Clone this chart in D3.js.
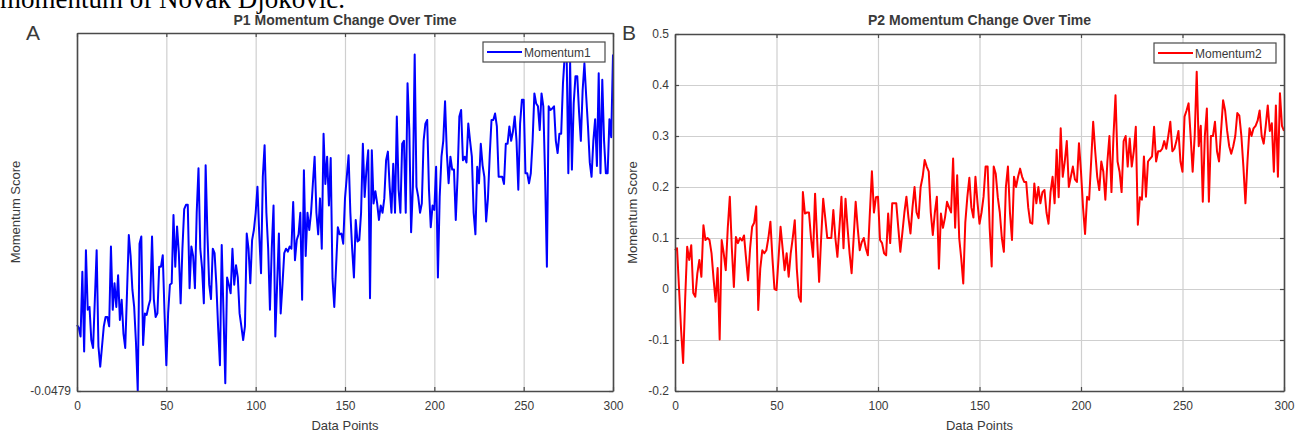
<!DOCTYPE html>
<html lang="en">
  <head>
    <meta charset="utf-8" />
    <title>Momentum change over time</title>
    <script type="text/javascript" src="https://cdn.jsdelivr.net/npm/d3@7"></script>
    <style type="text/css">
      body {
        margin: 0;
        background: white;
      }
      text {
        font-family: "Liberation Sans", Arial, sans-serif;
        fill: #3a3a3a;
      }
      .serif {
        font-family: "Liberation Serif", "Times New Roman", serif;
        fill: #000;
      }
    </style>
  </head>
  <body>
    <script type="text/javascript">
      var w = 1306;
      var h = 436;

      // x ticks shared by both panels
      var xTicks = [0, 50, 100, 150, 200, 250, 300];
      var yTicksP2 = [-0.2, -0.1, 0, 0.1, 0.2, 0.3, 0.4, 0.5];
      var yTicksP1 = [-0.0479];

      // momentum of player 1, one value per data point (0..300)
      var momentum1 = [
        0.044, 0.04, 0.028, 0.118, 0.007, 0.148, 0.065, 0.069, 0.023, 0.012,
        0.08, 0.148, 0.014, -0.014, 0.014, 0.042, 0.055, 0.055, 0.042, 0.153,
        0.065, 0.102, 0.069, 0.113, 0.051, 0.079, 0.032, 0.012, 0.09, 0.169,
        0.14, 0.093, 0.069, 0.02, -0.0479, 0.157, 0.167, 0.016, 0.06, 0.058,
        0.07, 0.079, 0.167, 0.08, 0.055, 0.06, 0.125, 0.125, 0.141, 0.06,
        -0.012, 0.06, 0.1, 0.102, 0.197, 0.125, 0.181, 0.144, 0.074, 0.15,
        0.205, 0.211, 0.211, 0.095, 0.153, 0.14, 0.095, 0.2, 0.262, 0.15,
        0.123, 0.074, 0.266, 0.17, 0.1, 0.08, 0.15, 0.144, 0.1, 0.04,
        -0.012, 0.155, 0.06, -0.037, 0.11, 0.1, 0.088, 0.15, 0.1, 0.127,
        0.11, 0.06, 0.042, 0.023, 0.042, 0.171, 0.15, 0.102, 0.162, 0.176,
        0.2, 0.236, 0.17, 0.116, 0.25, 0.294, 0.2, 0.15, 0.065, 0.15,
        0.21, 0.028, 0.1, 0.171, 0.06, 0.1, 0.144, 0.15, 0.146, 0.153,
        0.15, 0.215, 0.134, 0.162, 0.17, 0.2, 0.079, 0.259, 0.14, 0.2,
        0.176, 0.2, 0.24, 0.278, 0.2, 0.17, 0.22, 0.15, 0.31, 0.24,
        0.278, 0.21, 0.276, 0.109, 0.069, 0.125, 0.18, 0.17, 0.171, 0.157,
        0.22, 0.25, 0.28, 0.2, 0.15, 0.11, 0.19, 0.16, 0.162, 0.2,
        0.296, 0.222, 0.26, 0.287, 0.081, 0.287, 0.213, 0.23, 0.213, 0.19,
        0.21, 0.2, 0.22, 0.273, 0.285, 0.236, 0.2, 0.268, 0.2, 0.334,
        0.232, 0.2, 0.296, 0.3, 0.2, 0.38, 0.315, 0.173, 0.236, 0.42,
        0.236, 0.222, 0.2, 0.213, 0.3, 0.324, 0.329, 0.232, 0.18, 0.21,
        0.204, 0.264, 0.11, 0.222, 0.278, 0.3, 0.355, 0.283, 0.241, 0.278,
        0.26, 0.26, 0.19, 0.25, 0.334, 0.343, 0.273, 0.278, 0.27, 0.324,
        0.3, 0.278, 0.2, 0.17, 0.264, 0.241, 0.296, 0.266, 0.25, 0.188,
        0.22, 0.28, 0.329, 0.329, 0.338, 0.32, 0.25, 0.25, 0.25, 0.24,
        0.296, 0.296, 0.32, 0.3, 0.313, 0.334, 0.3, 0.232, 0.324, 0.357,
        0.357, 0.255, 0.255, 0.241, 0.255, 0.3, 0.366, 0.352, 0.348, 0.315,
        0.366, 0.348, 0.25, 0.125, 0.348, 0.343, 0.345, 0.348, 0.3, 0.283,
        0.31, 0.31, 0.38, 0.42, 0.43, 0.255, 0.41, 0.26, 0.352, 0.39,
        0.39, 0.34, 0.3, 0.37, 0.408, 0.362, 0.32, 0.27, 0.25, 0.3,
        0.33, 0.265, 0.394, 0.255, 0.385, 0.3, 0.255, 0.255, 0.33, 0.305,
        0.42
      ];

      // momentum of player 2
      var momentum2 = [
        0.076, 0.08, 0.0, -0.08, -0.145, -0.02, 0.083, 0.057, 0.086, -0.008,
        -0.015, 0.03, 0.057, 0.024, 0.125, 0.096, 0.1, 0.096, 0.07, 0.02,
        -0.025, 0.041, -0.099, 0.096, 0.07, 0.037, 0.12, 0.181, 0.08, 0.004,
        0.102, 0.09, 0.1, 0.095, 0.105, 0.06, 0.017, 0.08, 0.122, 0.13,
        0.162, -0.041, 0.04, 0.076, 0.07, 0.076, 0.1, 0.132, 0.06, 0.0,
        -0.002, 0.06, 0.122, 0.08, 0.037, 0.07, 0.024, 0.07, 0.1, 0.135,
        0.04, -0.015, -0.025, 0.19, 0.148, 0.15, 0.15, 0.1, 0.063, 0.187,
        0.1, 0.014, 0.1, 0.177, 0.14, 0.1, 0.1, 0.1, 0.155, 0.1,
        0.063, 0.12, 0.181, 0.08, 0.177, 0.12, 0.07, 0.031, 0.1, 0.171,
        0.12, 0.076, 0.092, 0.1, 0.08, 0.066, 0.15, 0.231, 0.15, 0.18,
        0.181, 0.096, 0.09, 0.07, 0.066, 0.148, 0.09, 0.168, 0.168, 0.168,
        0.12, 0.073, 0.11, 0.15, 0.181, 0.14, 0.109, 0.16, 0.2, 0.15,
        0.139, 0.2, 0.22, 0.253, 0.24, 0.23, 0.15, 0.106, 0.15, 0.181,
        0.04, 0.148, 0.12, 0.14, 0.171, 0.16, 0.15, 0.256, 0.12, 0.223,
        0.1, 0.06, 0.011, 0.13, 0.18, 0.218, 0.16, 0.14, 0.22, 0.17,
        0.128, 0.15, 0.181, 0.24, 0.24, 0.12, 0.044, 0.24, 0.226, 0.18,
        0.15, 0.1, 0.073, 0.2, 0.24, 0.15, 0.096, 0.22, 0.2, 0.22,
        0.236, 0.22, 0.21, 0.21, 0.16, 0.13, 0.128, 0.207, 0.168, 0.2,
        0.168, 0.19, 0.194, 0.15, 0.128, 0.19, 0.22, 0.168, 0.273, 0.18,
        0.315, 0.22, 0.25, 0.29, 0.2, 0.22, 0.24, 0.215, 0.21, 0.286,
        0.23, 0.16, 0.108, 0.181, 0.175, 0.25, 0.328, 0.27, 0.22, 0.194,
        0.25, 0.23, 0.175, 0.25, 0.3, 0.19, 0.3, 0.38, 0.25, 0.23,
        0.19, 0.29, 0.3, 0.24, 0.295, 0.24, 0.27, 0.318, 0.126, 0.18,
        0.175, 0.26, 0.181, 0.25, 0.255, 0.26, 0.318, 0.25, 0.27, 0.27,
        0.275, 0.29, 0.275, 0.3, 0.328, 0.27, 0.275, 0.29, 0.31, 0.25,
        0.23, 0.338, 0.35, 0.364, 0.3, 0.23, 0.3, 0.426, 0.28, 0.32,
        0.171, 0.3, 0.354, 0.171, 0.3, 0.3, 0.328, 0.27, 0.25, 0.31,
        0.37, 0.35, 0.31, 0.28, 0.265, 0.28, 0.3, 0.345, 0.34, 0.3,
        0.24, 0.168, 0.25, 0.315, 0.3, 0.315, 0.32, 0.33, 0.35, 0.3,
        0.285, 0.32, 0.36, 0.31, 0.325, 0.23, 0.36, 0.22, 0.384, 0.32,
        0.31
      ];

      // matlab style labels use a plain hyphen for minus
      var hyphen = function (s) {
        return s.replace("\u2212", "-");
      };

      var svg = d3
        .select("body")
        .append("svg")
        .attr("width", w)
        .attr("height", h);

      svg
        .append("rect")
        .attr("width", w)
        .attr("height", h)
        .attr("fill", "white");

      // bit of the caption of the page above, cut off at the top
      svg
        .append("text")
        .attr("class", "serif")
        .attr("x", 0)
        .attr("y", 8)
        .style("font-size", "27px")
        .text("momentum of Novak Djokovic.");

      //draws one panel
      var drawPanel = function (p) {
        var xScale = d3.scaleLinear().domain([0, 300]).range([p.left, p.right]);
        var yScale = d3
          .scaleLinear()
          .domain(p.yDomain)
          .range([p.bottom, p.top]);
        var ph = p.bottom - p.top;
        var pw = p.right - p.left;

        var g = svg.append("g");

        // grid lines
        g.append("g")
          .attr("transform", "translate(0," + p.bottom + ")")
          .call(d3.axisBottom(xScale).tickValues(xTicks).tickSize(-ph).tickFormat(""))
          .call(function (s) {
            s.select(".domain").remove();
            s.selectAll("line").attr("stroke", "#cfcfcf").attr("stroke-width", 1.2);
          });

        if (p.yGrid) {
          g.append("g")
            .attr("transform", "translate(" + p.left + ",0)")
            .call(d3.axisLeft(yScale).tickValues(p.yTicks).tickSize(-pw).tickFormat(""))
            .call(function (s) {
              s.select(".domain").remove();
              s.selectAll("line").attr("stroke", "#cfcfcf").attr("stroke-width", 1.2);
            });
        }

        // the line
        var line = d3
          .line()
          .x(function (d, i) {
            return xScale(i);
          })
          .y(function (d) {
            return yScale(d);
          });

        g.append("path")
          .datum(p.data)
          .attr("d", line)
          .attr("fill", "none")
          .attr("stroke", p.color)
          .attr("stroke-width", 2)
          .attr("stroke-linejoin", "round");

        // axes, ticks inward like matlab
        var xAxis = g
          .append("g")
          .attr("transform", "translate(0," + p.bottom + ")")
          .call(d3.axisBottom(xScale).tickValues(xTicks).tickSizeInner(-4).tickSizeOuter(0).tickPadding(10));
        var xTop = g
          .append("g")
          .attr("transform", "translate(0," + p.top + ")")
          .call(d3.axisTop(xScale).tickValues(xTicks).tickSizeInner(-4).tickSizeOuter(0).tickFormat(""));
        var yAxis = g
          .append("g")
          .attr("transform", "translate(" + p.left + ",0)")
          .call(d3.axisLeft(yScale).tickValues(p.yTicks).tickSizeInner(-4).tickSizeOuter(0).tickPadding(6).tickFormat(p.yFormat));
        var yRight = g
          .append("g")
          .attr("transform", "translate(" + p.right + ",0)")
          .call(d3.axisRight(yScale).tickValues(p.yTicks).tickSizeInner(-4).tickSizeOuter(0).tickFormat(""));

        [xAxis, xTop, yAxis, yRight].forEach(function (a) {
          a.select(".domain").attr("stroke", "#4a4a4a").attr("stroke-width", 1.6);
          a.selectAll(".tick line").attr("stroke", "#4a4a4a").attr("stroke-width", 1.2);
          a.selectAll(".tick text")
            .style("font-family", "'Liberation Sans', Arial, sans-serif")
            .style("font-size", "12px")
            .attr("fill", "#444");
        });

        // title
        g.append("text")
          .attr("x", (p.left + p.right) / 2)
          .attr("y", 25)
          .attr("text-anchor", "middle")
          .style("font-size", "14px")
          .style("font-weight", "bold")
          .attr("fill", "#222")
          .text(p.title);

        // axis labels
        g.append("text")
          .attr("x", (p.left + p.right) / 2)
          .attr("y", 430)
          .attr("text-anchor", "middle")
          .style("font-size", "13px")
          .attr("fill", "#444")
          .text("Data Points");

        g.append("text")
          .attr("transform", "translate(" + p.yLabelX + "," + (p.top + p.bottom) / 2 + ") rotate(-90)")
          .attr("text-anchor", "middle")
          .style("font-size", "13px")
          .attr("fill", "#444")
          .text("Momentum Score");

        // panel letter
        svg
          .append("text")
          .attr("x", p.letterX)
          .attr("y", 40)
          .style("font-size", "21px")
          .attr("fill", "#111")
          .text(p.letter);

        // legend
        var lg = g.append("g").attr("transform", "translate(" + (p.right - 130) + "," + (p.top + 9) + ")");
        lg.append("rect")
          .attr("width", 122)
          .attr("height", 20)
          .attr("fill", "white")
          .attr("stroke", "#4a4a4a")
          .attr("stroke-width", 1.2);
        lg.append("line")
          .attr("x1", 4)
          .attr("x2", 39)
          .attr("y1", 10)
          .attr("y2", 10)
          .attr("stroke", p.color)
          .attr("stroke-width", 2);
        lg.append("text")
          .attr("x", 41)
          .attr("y", 14.5)
          .style("font-size", "12px")
          .attr("fill", "#333")
          .text(p.legend);
      };

      drawPanel({
        left: 77,
        right: 613,
        top: 33,
        bottom: 391,
        yDomain: [-0.0479, 0.45],
        yTicks: yTicksP1,
        yFormat: function (d) {
          return hyphen(d3.format(".4f")(d));
        },
        yGrid: false,
        data: momentum1,
        color: "#0000ff",
        title: "P1 Momentum Change Over Time",
        legend: "Momentum1",
        yLabelX: 20,
        letterX: 26,
        letter: "A"
      });

      drawPanel({
        left: 675,
        right: 1284,
        top: 34,
        bottom: 391,
        yDomain: [-0.2, 0.5],
        yTicks: yTicksP2,
        yFormat: function (d) {
          return hyphen(d3.format("")(+d.toFixed(1)));
        },
        yGrid: true,
        data: momentum2,
        color: "#ff0000",
        title: "P2 Momentum Change Over Time",
        legend: "Momentum2",
        yLabelX: 637,
        letterX: 622,
        letter: "B"
      });
    </script>
  </body>
</html>
